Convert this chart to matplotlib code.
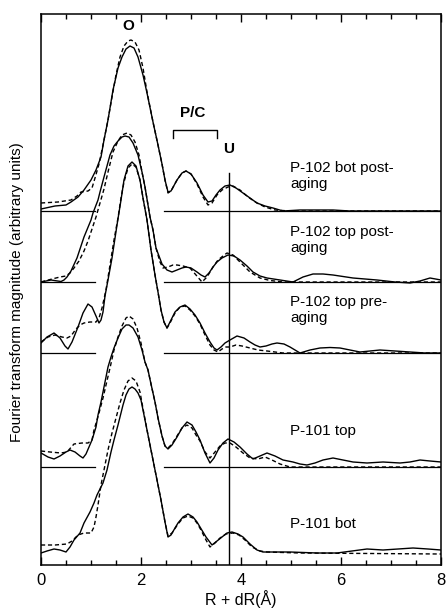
import matplotlib
matplotlib.use("Agg")
import matplotlib.pyplot as plt
from matplotlib.ticker import MultipleLocator

plt.rcParams['font.family'] = ['Liberation Sans', 'DejaVu Sans']

# --- datos (R en Å, magnitud en unidades arbitrarias sobre su linea base) ---
# P-102 bot post-aging
r1 = [0, 0.28, 0.5, 0.6, 0.74, 0.86, 1.0, 1.1, 1.2, 1.26, 1.34, 1.44, 1.54, 1.62, 1.7, 1.78, 1.86,
      1.94, 2.04, 2.12, 2.24, 2.34, 2.42, 2.48, 2.54, 2.6, 2.72, 2.82, 2.9, 3.0, 3.12, 3.24, 3.34,
      3.42, 3.5, 3.58, 3.68, 3.78, 3.9, 4.04, 4.18, 4.32, 4.48, 4.64, 4.84, 5.18, 5.84, 6.18, 8.0]
m1 = [2, 5, 6, 9, 14, 21, 31, 41, 54, 71, 91, 121, 143, 154, 162, 165, 163,
      154, 136, 118, 89, 66, 47, 31, 19, 20, 31, 38, 40, 37, 28, 16, 9,
      10, 16, 21, 25, 26, 23, 18, 13, 8, 5, 3, 0, 1, 1, 0, 0]
r1f = [0, 0.34, 0.6, 0.72, 0.8, 0.94, 1.02, 1.08, 1.16, 1.24, 1.34, 1.42, 1.5, 1.58, 1.66, 1.74, 1.8,
       1.88, 1.96, 2.04, 2.12, 2.24, 2.34, 2.42, 2.48, 2.54, 2.6, 2.72, 2.82, 2.9, 3.0, 3.12, 3.24,
       3.34, 3.42, 3.52, 3.62, 3.74, 3.84, 3.98, 4.14, 4.32, 4.48, 4.68, 4.98, 8.0]
m1f = [8, 9, 11, 15, 19, 20, 23, 33, 47, 66, 91, 114, 136, 154, 165, 170, 171,
       169, 161, 143, 119, 89, 66, 47, 31, 18, 20, 31, 38, 40, 37, 27, 14,
       6, 8, 16, 21, 24, 25, 21, 14, 8, 4, 1, 0, 0]

# P-102 top post-aging
r2 = [0, 0.2, 0.4, 0.46, 0.52, 0.6, 0.72, 0.86, 1.0, 1.04, 1.14, 1.18, 1.26, 1.38, 1.46, 1.54, 1.62,
      1.68, 1.76, 1.84, 1.94, 2.02, 2.08, 2.18, 2.24, 2.3, 2.42, 2.52, 2.62, 2.72, 2.82, 2.9, 3.0,
      3.12, 3.2, 3.28, 3.36, 3.44, 3.52, 3.62, 3.74, 3.86, 3.98, 4.12, 4.24, 4.38, 4.52, 4.78, 5.04,
      5.24, 5.44, 5.64, 5.84, 6.24, 6.72, 7.08, 7.38, 7.58, 7.78, 8.0]
m2 = [0, 2, 0.5, 2, 5, 11, 24, 45, 62, 69, 82, 90, 105, 127, 136, 141, 145,
      146, 145, 139, 127, 110, 95, 65, 52, 34, 18, 12, 10, 12, 14, 15, 14,
      10, 7, 5, 9, 15, 20, 24, 27, 26, 22, 16, 10, 6, 4, 2, 0,
      5, 8, 8, 7, 4, 2, 0, -1, 1, 4, 2]
r2f = [0, 0.22, 0.38, 0.5, 0.58, 0.66, 0.76, 0.86, 0.94, 1.02, 1.1, 1.18, 1.26, 1.34, 1.44, 1.54,
       1.62, 1.72, 1.8, 1.88, 1.96, 2.02, 2.08, 2.18, 2.24, 2.3, 2.38, 2.44, 2.54, 2.64, 2.72, 2.84,
       2.98, 3.1, 3.22, 3.32, 3.44, 3.54, 3.64, 3.72, 3.84, 3.98, 4.18, 4.38, 4.58, 4.84, 8.0]
m2f = [0, 3, 5, 6, 9, 14, 21, 31, 41, 53, 65, 79, 93, 110, 130, 141,
       147, 149, 147, 140, 127, 110, 95, 65, 52, 34, 20, 14, 15, 17, 17, 16,
       14, 7, 0, 5, 15, 22, 26, 29, 27, 20, 10, 4, 1.5, 0, 0]

# P-102 top pre-aging
r3 = [0, 0.12, 0.26, 0.38, 0.48, 0.54, 0.62, 0.74, 0.84, 0.94, 1.02, 1.1, 1.16, 1.2, 1.24, 1.28,
      1.34, 1.42, 1.52, 1.6, 1.66, 1.74, 1.82, 1.9, 1.98, 2.04, 2.12, 2.2, 2.28, 2.34, 2.4, 2.46,
      2.52, 2.58, 2.68, 2.78, 2.88, 2.98, 3.08, 3.18, 3.28, 3.38, 3.46, 3.52, 3.6, 3.68, 3.78, 3.92,
      4.06, 4.18, 4.28, 4.38, 4.5, 4.62, 4.72, 4.86, 4.98, 5.08, 5.18, 5.38, 5.58, 5.78, 5.98, 6.18,
      6.38, 6.58, 6.78, 7.08, 7.38, 7.68, 8.0]
m3 = [10, 16, 20, 15, 7, 4, 11, 26, 40, 49, 46, 37, 30, 33, 41, 57,
      73, 95, 128, 153, 173, 187, 191, 187, 173, 155, 133, 103, 78, 61, 43, 31,
      25, 31, 41, 46, 48, 44, 38, 30, 20, 11, 5, 3, 6, 10, 13, 17,
      15, 11, 8, 6, 7, 9, 10, 9, 6, 3, 0, 3, 5, 5.5, 5, 3,
      1, 2, 3, 2, 1, 0, 0]
r3f = [0, 0.14, 0.28, 0.42, 0.52, 0.6, 0.7, 0.78, 0.86, 0.98, 1.1, 1.16, 1.22, 1.3, 1.38, 1.46,
       1.54, 1.6, 1.66, 1.74, 1.82, 1.9, 1.98, 2.04, 2.12, 2.2, 2.28, 2.34, 2.4, 2.46, 2.52, 2.58,
       2.68, 2.78, 2.88, 2.98, 3.08, 3.18, 3.28, 3.38, 3.46, 3.54, 3.62, 3.7, 3.78, 3.9, 4.02, 4.18,
       4.34, 4.52, 4.84, 8.0]
m3f = [11, 16, 18, 16, 15, 17, 24, 28, 30, 31, 31, 35, 45, 63, 88, 113,
       135, 155, 171, 185, 189, 186, 173, 155, 133, 103, 78, 61, 43, 31, 25, 30,
       40, 46, 47, 43, 37, 29, 18, 8, 3, 1, 4, 6, 6, 8, 7, 5,
       3, 2, 0, 0]

# P-101 top
r4 = [0, 0.14, 0.26, 0.38, 0.5, 0.58, 0.68, 0.78, 0.84, 0.9, 0.96, 1.02, 1.1, 1.14, 1.2, 1.28,
      1.34, 1.4, 1.46, 1.54, 1.62, 1.7, 1.76, 1.84, 1.94, 2.02, 2.08, 2.14, 2.2, 2.28, 2.34, 2.42,
      2.48, 2.54, 2.62, 2.72, 2.82, 2.92, 3.02, 3.1, 3.18, 3.28, 3.38, 3.46, 3.54, 3.64, 3.74, 3.86,
      3.98, 4.12, 4.24, 4.38, 4.52, 4.68, 4.84, 5.04, 5.18, 5.32, 5.48, 5.64, 5.84, 6.04, 6.24, 6.52,
      6.84, 7.18, 7.38, 7.58, 7.78, 8.0]
m4 = [14, 10, 8, 11, 15, 17, 15, 11, 9, 13, 20, 27, 40, 52, 65, 85,
      100, 110, 119, 129, 138, 142, 142, 139, 130, 117, 105, 97, 83, 65, 49, 31,
      21, 18, 22, 30, 39, 45, 42, 35, 27, 14, 4, 9, 17, 24, 28, 25,
      20, 13, 8, 11, 14, 11, 7, 5, 3, 2, 4, 7, 9, 7, 5, 4,
      5, 4, 5, 7, 6, 5]
r4f = [0, 0.18, 0.4, 0.52, 0.66, 0.82, 0.94, 1.02, 1.06, 1.12, 1.16, 1.24, 1.3, 1.38, 1.46, 1.54,
       1.62, 1.7, 1.76, 1.84, 1.92, 2.0, 2.08, 2.14, 2.2, 2.28, 2.34, 2.42, 2.48, 2.54, 2.62, 2.72,
       2.82, 2.92, 3.02, 3.1, 3.18, 3.28, 3.38, 3.48, 3.58, 3.68, 3.78, 3.9, 4.04, 4.18, 4.34, 4.48,
       4.62, 4.78, 4.98, 8.0]
m4f = [16, 15, 14, 15, 23, 24, 24, 27, 37, 47, 54, 69, 82, 99, 117, 130,
       141, 149, 151, 148, 139, 124, 105, 97, 83, 65, 49, 31, 21, 19, 23, 31,
       39, 42, 39, 32, 26, 15, 9, 15, 21, 24, 24, 20, 14, 9, 8, 10,
       7, 3, 0, 0]

# P-101 bot
r5 = [0, 0.12, 0.26, 0.38, 0.5, 0.58, 0.66, 0.78, 0.86, 0.98, 1.06, 1.12, 1.24, 1.32, 1.4, 1.46,
      1.54, 1.64, 1.7, 1.76, 1.82, 1.88, 1.94, 2.0, 2.1, 2.2, 2.3, 2.4, 2.48, 2.54, 2.6, 2.68,
      2.74, 2.84, 2.94, 3.04, 3.12, 3.18, 3.3, 3.42, 3.52, 3.62, 3.72, 3.82, 3.94, 4.04, 4.18, 4.32,
      4.44, 4.58, 4.98, 5.52, 5.92, 6.22, 6.52, 6.84, 7.14, 7.44, 7.74, 8.0]
m5 = [2, 4, 6, 5, 3, 8, 15, 22, 32, 43, 52, 60, 72, 85, 103, 115,
      130, 150, 160, 166, 168, 166, 162, 155, 130, 105, 80, 55, 33, 18, 20, 27,
      32, 38, 41, 38, 33, 28, 18, 10, 14, 18, 22, 23, 21, 18, 11, 5,
      3, 3, 3, 2, 2, 4, 6, 5, 6, 7, 6, 5]
r5f = [0, 0.28, 0.52, 0.62, 0.74, 0.86, 1.0, 1.06, 1.1, 1.14, 1.2, 1.26, 1.34, 1.42, 1.5, 1.58,
       1.66, 1.74, 1.82, 1.9, 1.98, 2.06, 2.14, 2.2, 2.3, 2.4, 2.48, 2.54, 2.62, 2.74, 2.84, 2.94,
       3.04, 3.12, 3.2, 3.3, 3.38, 3.48, 3.58, 3.7, 3.84, 3.96, 4.08, 4.22, 4.38, 4.52, 5.18, 8.0]
m5f = [10, 10, 11, 14, 20, 22, 22, 28, 38, 50, 70, 85, 105, 122, 137, 152,
       165, 174, 177, 174, 163, 141, 120, 105, 80, 55, 33, 19, 22, 31, 37, 39,
       37, 32, 25, 15, 8, 12, 17, 21, 22, 20, 15, 8, 4, 3, 2, 1]

etiquetas = ["P-102 bot post-\naging", "P-102 top post-\naging", "P-102 top pre-\naging",
             "P-101 top", "P-101 bot"]
desplaz = [354, 283, 212, 98, 10]   # linea base de cada espectro

solidas = [(r1, m1), (r2, m2), (r3, m3), (r4, m4), (r5, m5)]
ajustes = [(r1f, m1f), (r2f, m2f), (r3f, m3f), (r4f, m4f), (r5f, m5f)]

fig = plt.figure(figsize=(4.46, 6.08), dpi=100)
ax = fig.add_axes([41 / 446, 43 / 608, 400 / 446, 551 / 608])

for (r, m), (rf, mf), off in zip(solidas, ajustes, desplaz):
    ax.plot(r, [v + off for v in m], color='black', lw=1.0)
    ax.plot(rf, [v + off for v in mf], color='black', lw=1.0, linestyle=(0, (3, 2)))

# lineas base (no para P-101 bot)
for off in desplaz[:4]:
    ax.plot([0, 1.08], [off, off], color='black', lw=0.9)
    ax.plot([2.45, 8], [off, off], color='black', lw=0.9)

# linea vertical U
ax.plot([3.75, 3.75], [0, 392], color='black', lw=1.0)

# etiquetas de muestras
tops = [404, 340, 270, 141, 48]
for txt, yt in zip(etiquetas, tops):
    ax.text(4.98, yt, txt, fontsize=11, va='top', ha='left', linespacing=1.15)

# anotaciones O, P/C, U
ax.text(1.74, 539, "O", fontsize=11, fontweight='bold', ha='center', va='center')
ax.text(3.04, 452, "P/C", fontsize=11, fontweight='bold', ha='center', va='center')
ax.text(3.76, 416, "U", fontsize=11, fontweight='bold', ha='center', va='center')
ax.plot([2.64, 2.64, 3.52, 3.52], [427, 435.5, 435.5, 427], color='black', lw=1.0)

ax.set_xlim(0, 8)
ax.set_ylim(0, 551)
ax.set_yticks([])
ax.xaxis.set_major_locator(MultipleLocator(2))
ax.xaxis.set_minor_locator(MultipleLocator(0.5))
ax.tick_params(axis='x', which='both', direction='in', top=True, width=1.0, labelsize=12, pad=6)
ax.tick_params(axis='x', which='major', length=6)
ax.tick_params(axis='x', which='minor', length=3.5)
for s in ax.spines.values():
    s.set_linewidth(1.1)

ax.set_xlabel("R + dR(Å)", fontsize=11.5, labelpad=1)
fig.text(17 / 446, 1 - 292 / 608, "Fourier transform magnitude (arbitrary units)",
         rotation=90, fontsize=11, ha='center', va='center')

fig.savefig("out.png", dpi=100)
